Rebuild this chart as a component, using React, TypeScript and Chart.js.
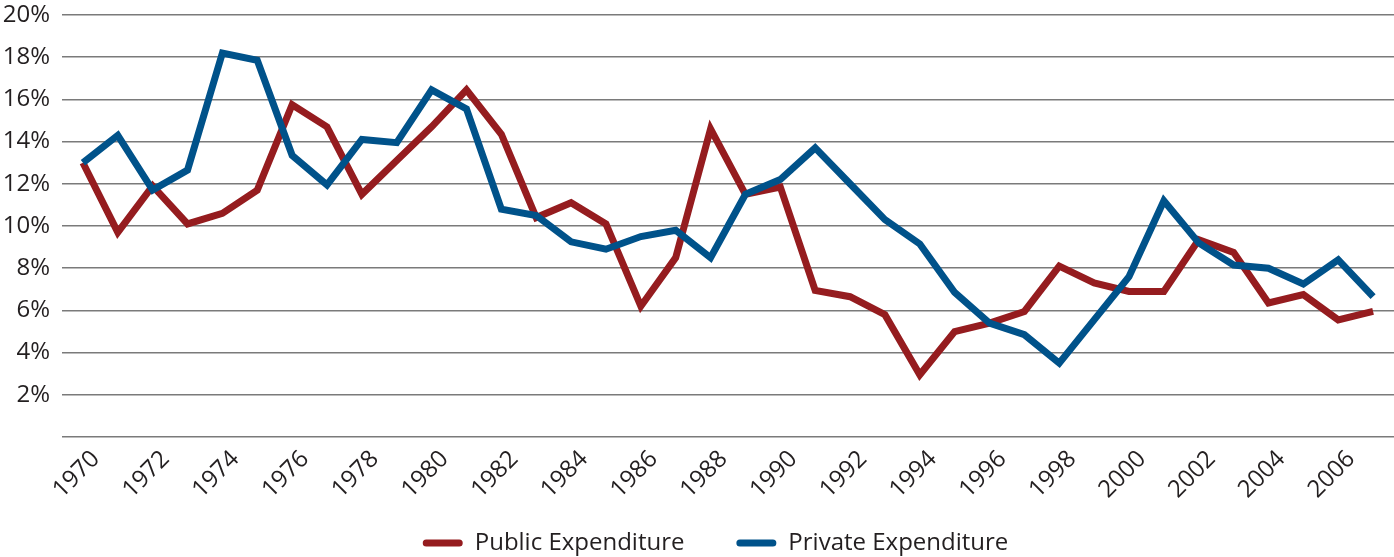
import React, { useEffect, useRef } from "react";
import { Chart, registerables } from "chart.js";

Chart.register(...registerables);

const years = [
  1970, 1971, 1972, 1973, 1974, 1975, 1976, 1977, 1978, 1979,
  1980, 1981, 1982, 1983, 1984, 1985, 1986, 1987, 1988, 1989,
  1990, 1991, 1992, 1993, 1994, 1995, 1996, 1997, 1998, 1999,
  2000, 2001, 2002, 2003, 2004, 2005, 2006, 2007,
];

const publicExpenditure = [
  13.0, 9.7, 11.9, 10.1, 10.6, 11.7, 15.75, 14.7, 11.5, 13.1,
  14.7, 16.45, 14.35, 10.4, 11.1, 10.1, 6.2, 8.5, 14.6, 11.5,
  11.85, 6.95, 6.65, 5.8, 2.95, 5.0, 5.4, 5.95, 8.1, 7.3,
  6.9, 6.9, 9.35, 8.75, 6.35, 6.75, 5.55, 5.95,
];

const privateExpenditure = [
  13.0, 14.3, 11.7, 12.65, 18.2, 17.85, 13.35, 11.95, 14.1, 13.95,
  16.45, 15.55, 10.8, 10.5, 9.25, 8.9, 9.5, 9.8, 8.5, 11.5,
  12.2, 13.7, 12.0, 10.3, 9.15, 6.85, 5.4, 4.85, 3.5, 5.55,
  7.6, 11.2, 9.2, 8.15, 8.0, 7.25, 8.4, 6.65,
];

const seriesNames = ["Public Expenditure", "Private Expenditure"];
const seriesColors = ["#951c1f", "#00528a"];

const FONT = "'Open Sans', 'Liberation Sans', sans-serif";
const TEXT = "#231f20";
const LEGEND_GAP = "\u00a0".repeat(8);
const LEGEND_TAIL = "\u00a0".repeat(4);

export default function App() {
  const canvasRef = useRef<HTMLCanvasElement | null>(null);

  useEffect(() => {
    const canvas = canvasRef.current;
    if (!canvas) return;
    const toPoints = (vals: number[]) => years.map((y, i) => ({ x: y, y: vals[i] }));
    const chart = new Chart(canvas, {
      type: "line",
      data: {
        datasets: [
          {
            label: seriesNames[0],
            data: toPoints(publicExpenditure),
            borderColor: seriesColors[0],
            backgroundColor: seriesColors[0],
            borderWidth: 7,
            pointRadius: 0,
            tension: 0,
            order: 1,
          },
          {
            label: seriesNames[1],
            data: toPoints(privateExpenditure),
            borderColor: seriesColors[1],
            backgroundColor: seriesColors[1],
            borderWidth: 7,
            pointRadius: 0,
            tension: 0,
            order: 0,
          },
        ],
      },
      options: {
        animation: false,
        responsive: true,
        maintainAspectRatio: false,
        layout: { padding: { top: 15, left: 2, right: 0, bottom: 0 } },
        plugins: {
          tooltip: { enabled: false },
          legend: {
            position: "bottom",
            fullSize: false,
            labels: {
              font: { family: FONT, size: 24 },
              color: TEXT,
              boxWidth: 40,
              boxHeight: 7,
              padding: 2,
              useBorderRadius: true,
              borderRadius: 3.5,
              generateLabels: () =>
                seriesNames.map((name, i) => ({
                  text: i === 0 ? name + LEGEND_GAP : name + LEGEND_TAIL,
                  fillStyle: seriesColors[i],
                  strokeStyle: seriesColors[i],
                  lineWidth: 0,
                  hidden: false,
                  datasetIndex: i,
                  borderRadius: 3.5,
                  fontColor: TEXT,
                })),
            },
          },
        },
        scales: {
          x: {
            type: "linear",
            min: 1969.4,
            max: 2007.6,
            grid: { display: false },
            border: { display: false },
            afterFit: (scale: any) => {
              scale.paddingLeft = 0;
              scale.paddingRight = 0;
              scale.height = 92;
            },
            ticks: {
              stepSize: 2,
              includeBounds: false,
              autoSkip: false,
              maxRotation: 45,
              minRotation: 45,
              labelOffset: 13,
              padding: 0,
              color: TEXT,
              font: { family: FONT, size: 24 },
              callback: (v: any) => String(v),
            },
          },
          y: {
            min: 0,
            max: 20,
            grid: { color: "#7a7a7a", lineWidth: 1.5, drawTicks: false },
            border: { display: false },
            afterFit: (scale: any) => {
              scale.width = 60;
              scale.paddingTop = 0;
              scale.paddingBottom = 0;
            },
            ticks: {
              stepSize: 2,
              padding: 12,
              color: TEXT,
              font: { family: FONT, size: 24 },
              callback: (v: any) => (v === 0 ? "" : v + "%"),
            },
          },
        },
      },
    });
    return () => chart.destroy();
  }, []);

  return (
    <div style={{ position: "fixed", left: 0, top: 0, width: 1394, height: 565, background: "#fff" }}>
      <canvas ref={canvasRef} />
    </div>
  );
}
